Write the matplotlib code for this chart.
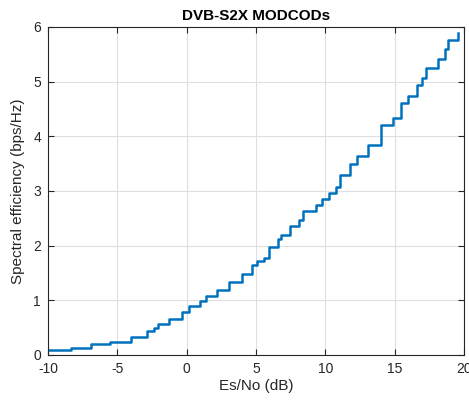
import matplotlib.pyplot as plt

# Es/No thresholds (dB) and spectral efficiency (bps/Hz) of the MODCODs
esno = [-10.0, -8.36, -6.92, -5.53, -4.04, -2.88, -2.36, -2.09, -1.28, -0.32,
        0.15, 0.96, 1.37, 2.2, 3.07, 4.01, 4.69, 5.09, 5.57, 5.95,
        6.56, 6.8, 7.45, 8.12, 8.41, 9.3, 9.73, 10.26, 10.74, 11.05,
        11.77, 12.26, 13.05, 13.98, 14.85, 15.45, 15.93, 16.58, 16.99, 17.25,
        18.14, 18.62, 18.86, 19.6]
eff = [0.1, 0.12, 0.2, 0.24, 0.33, 0.44, 0.49, 0.57, 0.65, 0.79,
       0.9, 0.99, 1.08, 1.19, 1.33, 1.49, 1.64, 1.71, 1.78, 1.97,
       2.12, 2.19, 2.36, 2.46, 2.64, 2.74, 2.85, 2.97, 3.08, 3.29,
       3.5, 3.64, 3.84, 4.2, 4.34, 4.61, 4.73, 4.94, 5.06, 5.24,
       5.42, 5.59, 5.77, 5.88]

plt.rcParams['font.family'] = ['Liberation Sans', 'DejaVu Sans']
plt.rcParams['axes.unicode_minus'] = False
dark = '#262626'

fig = plt.figure(figsize=(4.69, 4.05), dpi=100)
ax = fig.add_axes([0.1023, 0.1235, 0.887, 0.81])

ax.step(esno, eff, where='post', color='#0072BD', linewidth=1.8)

ax.set_xlim(-10, 20)
ax.set_ylim(0, 6)
ax.set_xticks(range(-10, 21, 5))
ax.set_yticks(range(0, 7))
ax.grid(True, color='#dfdfdf', linewidth=0.8)
ax.set_axisbelow(True)
ax.tick_params(direction='in', top=True, right=True, colors=dark,
               labelsize=10, length=4, width=0.8, pad=5)
for s in ax.spines.values():
    s.set_color(dark)
    s.set_linewidth(0.8)

ax.set_xlabel('Es/No (dB)', fontsize=11, color=dark, labelpad=2)
ax.set_ylabel('Spectral efficiency (bps/Hz)', fontsize=11, color=dark, labelpad=6)
ax.set_title('DVB-S2X MODCODs', fontsize=11, fontweight='bold', color='black', pad=5)

fig.savefig('out.png', dpi=100)
